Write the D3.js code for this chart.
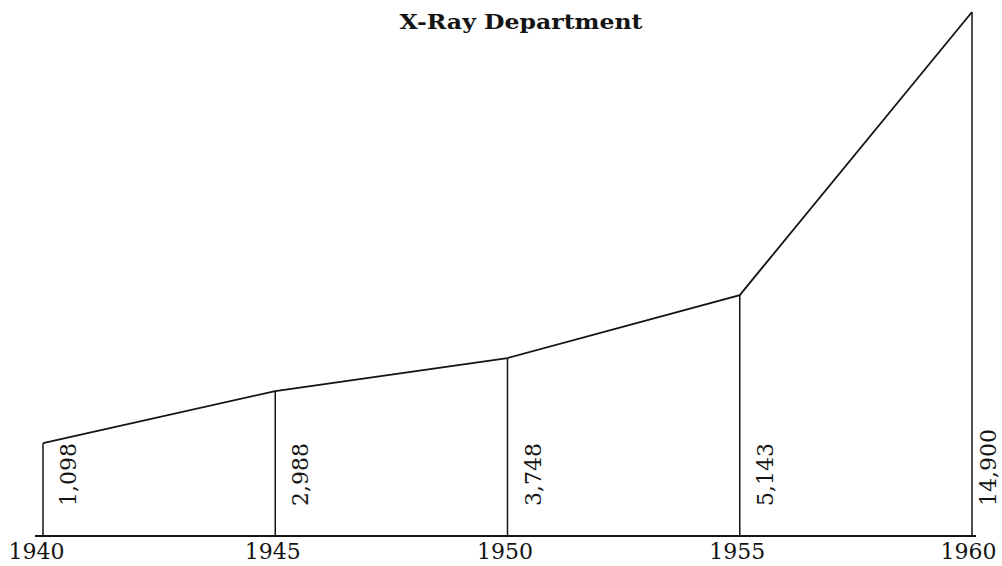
<!DOCTYPE html>
<html>
<head>
<meta charset="utf-8">
<script src="https://cdn.jsdelivr.net/npm/d3@7"></script>
<style>
  html, body { margin: 0; padding: 0; background: #ffffff; }
  svg { display: block; }
</style>
</head>
<body>
<div id="chart"></div>
<script>
// ---- data ----
const title = "X-Ray Department";
const years = [1940, 1945, 1950, 1955, 1960];
const labels = [1098, 2988, 3748, 5143, 14900];          // annotated figures
// heights at which the original (not-to-scale) drawing plots each year in the same units
const plotted = [2640, 4120, 5060, 6850, 14900];

const W = 1002, H = 566;
const svg = d3.select("#chart").append("svg").attr("width", W).attr("height", H);

const x = d3.scaleLinear().domain([1940, 1960]).range([43, 972]);
const y = d3.scaleLinear().domain([0, 14900]).range([536, 12]);

const data = years.map((yr, i) => ({ yr, label: labels[i], v: plotted[i] }));
const fmt = d3.format(",");
const ink = "#141414";

// title
svg.append("text")
  .attr("x", 521).attr("y", 29)
  .attr("text-anchor", "middle")
  .attr("font-family", "DejaVu Serif, serif")
  .attr("font-weight", "bold")
  .attr("font-size", 21)
  .attr("textLength", 243)
  .attr("lengthAdjust", "spacingAndGlyphs")
  .attr("fill", ink)
  .text(title);

// baseline
svg.append("line")
  .attr("x1", x(1940) - 8).attr("x2", x(1960) + 4)
  .attr("y1", y(0)).attr("y2", y(0))
  .attr("stroke", ink).attr("stroke-width", 2);

// vertical lines
svg.selectAll("line.v").data(data).join("line")
  .attr("class", "v")
  .attr("x1", d => x(d.yr)).attr("x2", d => x(d.yr))
  .attr("y1", y(0)).attr("y2", d => y(d.v))
  .attr("stroke", ink).attr("stroke-width", 1.5);

// trend line
svg.append("path")
  .datum(data)
  .attr("fill", "none")
  .attr("stroke", ink)
  .attr("stroke-width", 1.8)
  .attr("d", d3.line().x(d => x(d.yr)).y(d => y(d.v)));

// value labels (rotated, reading upward)
svg.selectAll("text.val").data(data).join("text")
  .attr("class", "val")
  .attr("transform", d => `translate(${Math.min(x(d.yr) + 33, W - 6)},${y(0) - 30}) rotate(-90)`)
  .attr("text-anchor", "start")
  .attr("font-family", "DejaVu Serif, serif")
  .attr("font-size", 22)
  .attr("fill", ink)
  .text(d => fmt(d.label));

// year labels via axis
const axis = d3.axisBottom(x).tickValues(years).tickFormat(d3.format("d")).tickSize(0).tickPadding(0);
const g = svg.append("g").attr("transform", `translate(0,${y(0)})`).call(axis);
g.select(".domain").remove();
g.selectAll("text")
  .attr("y", 23)
  .attr("dy", 0)
  .attr("dx", d => d === 1940 ? -7 : (d === 1960 ? -4 : -3))
  .attr("font-family", "DejaVu Serif, serif")
  .attr("font-size", 22)
  .attr("fill", ink);
</script>
</body>
</html>
